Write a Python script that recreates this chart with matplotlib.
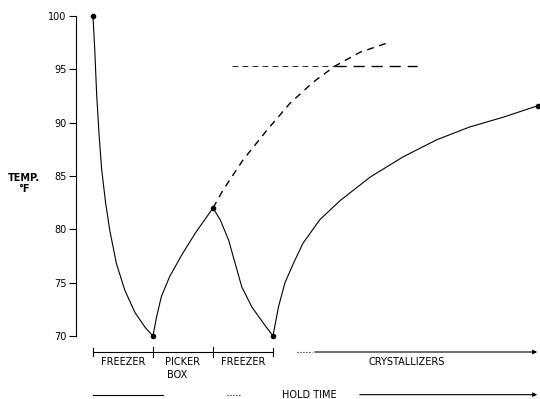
import matplotlib.pyplot as plt

# time in stage units (1 unit = one freezer/picker pass), temperature in deg F
t_cool1 = [0.0, 0.03, 0.06, 0.1, 0.145, 0.21, 0.28, 0.39, 0.53, 0.7, 0.87, 1.0]
temp_cool1 = [100, 96.8, 92.8, 89.0, 85.6, 82.5, 79.9, 76.8, 74.3, 72.2,
              70.8, 70]

t_pick = [1.0, 1.06, 1.14, 1.28, 1.48, 1.7, 2.0]
temp_pick = [70, 71.8, 73.7, 75.6, 77.6, 79.6, 82]

t_cool2 = [2.0, 2.12, 2.26, 2.37, 2.48, 2.65, 2.84, 3.0]
temp_cool2 = [82, 80.9, 79.0, 76.8, 74.6, 72.7, 71.2, 70]

t_cryst = [3.0, 3.09, 3.2, 3.34, 3.5, 3.78, 4.12, 4.62, 5.17, 5.73, 6.28,
           6.83, 7.42]
temp_cryst = [70, 72.7, 75.0, 76.8, 78.7, 80.9, 82.7, 84.9, 86.8, 88.4,
              89.6, 90.5, 91.6]

t_proj = [2.0, 2.17, 2.5, 2.9, 3.28, 3.67, 4.03, 4.45, 4.92]
temp_proj = [82, 83.7, 86.5, 89.3, 91.8, 93.8, 95.3, 96.6, 97.5]

hline_temp = 95.3
hline_t = [2.32, 4.03, 5.4]

dots_t = [0.0, 1.0, 2.0, 3.0, 7.42]
dots_temp = [100, 70, 82, 70, 91.6]

yticks = [70, 75, 80, 85, 90, 95, 100]

stage_edges = [0.0, 1.0, 2.0, 3.0]
stage_labels = ["FREEZER", "PICKER", "FREEZER"]

fig = plt.figure(figsize=(5.4, 3.99), dpi=100)
ax = fig.add_axes([76 / 540, 63 / 399, 1 - 76 / 540, 320 / 399])
ax.set_xlim(-0.283, 7.45)
ax.set_ylim(70, 100)

lw = 0.8
for tt, yy in [(t_cool1, temp_cool1), (t_pick, temp_pick),
               (t_cool2, temp_cool2), (t_cryst, temp_cryst)]:
    ax.plot(tt, yy, color="black", lw=lw, clip_on=False,
            solid_joinstyle="round")
ax.plot(t_proj, temp_proj, color="black", lw=1.0, ls=(0, (5, 4)))
ax.plot(hline_t[:2], [hline_temp, hline_temp], color="black", lw=0.6,
        ls=(0, (7, 5)))
ax.plot(hline_t[1:], [hline_temp, hline_temp], color="black", lw=1.0,
        ls=(0, (8, 5)))
ax.plot(dots_t, dots_temp, "o", color="black", ms=3, clip_on=False)

for s in ["top", "right", "bottom"]:
    ax.spines[s].set_visible(False)
ax.spines["left"].set_linewidth(lw)
ax.set_xticks([])
ax.set_yticks(yticks)
ax.tick_params(axis="y", direction="out", length=5, width=lw, pad=2,
               labelsize=7)
ax.text(-1.15, 84.3, "TEMP.\n°F", fontsize=7, ha="center", va="center",
        fontweight="bold")

# stage timeline below the plot
y_line = 68.5
ax.plot([stage_edges[0], stage_edges[-1]], [y_line, y_line], color="black",
        lw=lw, clip_on=False)
for e in stage_edges:
    h = 0.5 if e in (1.0, 2.0) else 0.35
    ax.plot([e, e], [y_line - h, y_line + h], color="black", lw=lw,
            clip_on=False)
for i, lab in enumerate(stage_labels):
    ax.text(stage_edges[i] + 0.5, 67.6, lab, fontsize=7, ha="center",
            va="center")
ax.text(1.4, 66.3, "BOX", fontsize=7, ha="center", va="center")
ax.plot([3.4, 3.65], [y_line, y_line], color="black", lw=lw, ls=":",
        clip_on=False)
ax.annotate("", xy=(7.45, y_line), xytext=(3.65, y_line),
            arrowprops=dict(arrowstyle="-|>", color="black", lw=lw,
                            mutation_scale=6), annotation_clip=False)
ax.text(5.22, 67.6, "CRYSTALLIZERS", fontsize=7, ha="center", va="center")

y_hold = 64.5
ax.plot([0.0, 1.17], [y_hold, y_hold], color="black", lw=lw, clip_on=False)
ax.plot([2.23, 2.45], [y_hold, y_hold], color="black", lw=lw, ls=":",
        clip_on=False)
ax.text(3.6, y_hold, "HOLD TIME", fontsize=7, ha="center", va="center")
ax.annotate("", xy=(7.45, y_hold), xytext=(4.4, y_hold),
            arrowprops=dict(arrowstyle="-|>", color="black", lw=lw,
                            mutation_scale=6), annotation_clip=False)

fig.savefig("out.png", dpi=100)
